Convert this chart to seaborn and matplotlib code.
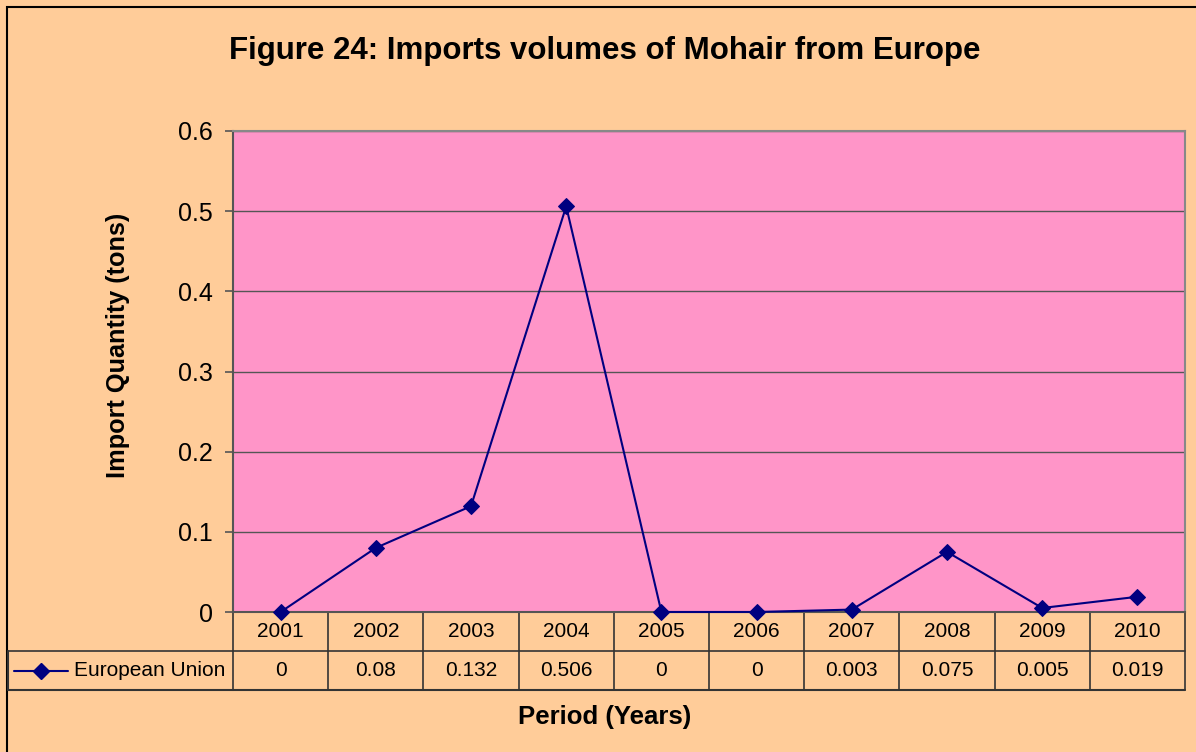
import matplotlib
matplotlib.use("Agg")
import matplotlib.pyplot as plt
import seaborn as sns
import pandas as pd
from matplotlib.lines import Line2D

years = ["2001", "2002", "2003", "2004", "2005", "2006", "2007", "2008", "2009", "2010"]
eu_values = [0, 0.08, 0.132, 0.506, 0, 0, 0.003, 0.075, 0.005, 0.019]
value_labels = ["0", "0.08", "0.132", "0.506", "0", "0", "0.003", "0.075", "0.005", "0.019"]
series_name = "European Union"
y_ticks = [0, 0.1, 0.2, 0.3, 0.4, 0.5, 0.6]
y_tick_labels = ["0", "0.1", "0.2", "0.3", "0.4", "0.5", "0.6"]

sns.set_style("white")
plt.rcParams['font.family'] = ['Liberation Sans', 'DejaVu Sans']
plt.rcParams['text.color'] = 'black'
plt.rcParams['axes.labelcolor'] = 'black'
plt.rcParams['ytick.color'] = '#555555'
plt.rcParams['ytick.labelcolor'] = 'black'

PEACH = "#FFCC99"
PINK = "#FF95C8"
NAVY = "#000080"

W, H = 1196, 752
fig = plt.figure(figsize=(W / 100, H / 100), dpi=100)
fig.patch.set_facecolor(PEACH)

# outer border
fig.add_artist(plt.Rectangle((7 / W, -0.01), 1.5, 1 - 7 / H + 0.01, transform=fig.transFigure,
                             fill=False, edgecolor="black", linewidth=1.5))

left, right, top, bottom = 233, 1185, 131, 612
ax = fig.add_axes([left / W, (H - bottom) / H, (right - left) / W, (bottom - top) / H])
ax.set_facecolor(PINK)

df = pd.DataFrame({"x": list(range(len(years))), "y": eu_values})
sns.lineplot(data=df, x="x", y="y", ax=ax, color=NAVY, marker="D", markersize=8,
             markeredgecolor=NAVY, linewidth=1.5, clip_on=False, zorder=5)

ax.set_xlim(-0.5, len(years) - 0.5)
ax.set_ylim(0, 0.6)
ax.set_yticks(y_ticks)
ax.set_yticklabels(y_tick_labels, fontsize=18)
ax.set_xticks([])
ax.set_xlabel("")
ax.set_ylabel("Import Quantity (tons)", fontsize=18.2, fontweight="bold")
ax.yaxis.set_label_coords(-103 / (right - left), (bottom - 345) / (bottom - top))
ax.tick_params(axis="y", length=6, width=1.2, color="#555555", direction="out", left=True, pad=8.5)
ax.grid(axis="y", color="#555555", linewidth=1)
for s in ["left", "bottom"]:
    ax.spines[s].set_color("#555555")
    ax.spines[s].set_linewidth(1.5)
for s in ["top", "right"]:
    ax.spines[s].set_color("#888888")
    ax.spines[s].set_linewidth(1.5)

# data table below the axes
row_h = 39 / (bottom - top)  # in axes fraction
tr = ax.get_xaxis_transform()
n = len(years)
lc = "#333333"
y1 = -row_h
y2 = -2 * row_h
ax.plot([-0.5, n - 0.5], [y1, y1], transform=tr, color=lc, lw=1.2, clip_on=False)
ax.plot([-0.5, n - 0.5], [y2, y2], transform=tr, color=lc, lw=1.5, clip_on=False)
for i in range(n + 1):
    ax.plot([i - 0.5, i - 0.5], [0, y2], transform=tr, color=lc, lw=1.2, clip_on=False)
for i, (yr, vl) in enumerate(zip(years, value_labels)):
    ax.text(i, -row_h / 2, yr, transform=tr, ha="center", va="center", fontsize=15)
    ax.text(i, -1.5 * row_h, vl, transform=tr, ha="center", va="center", fontsize=15)

# legend cell
lx0 = 8 / W
fy1 = (H - 651) / H
fy2 = (H - 690) / H
fx_axis = left / W
fig.add_artist(Line2D([lx0, fx_axis], [fy1, fy1], transform=fig.transFigure, color=lc, lw=1.2))
fig.add_artist(Line2D([lx0, fx_axis], [fy2, fy2], transform=fig.transFigure, color=lc, lw=1.5))
fig.add_artist(Line2D([lx0, lx0], [fy1, fy2], transform=fig.transFigure, color=lc, lw=1.5))
ym = (fy1 + fy2) / 2
fig.add_artist(Line2D([14 / W, 68 / W], [ym, ym], transform=fig.transFigure, color=NAVY, lw=1.5))
fig.add_artist(Line2D([41 / W], [ym], transform=fig.transFigure, color=NAVY, marker="D", markersize=8))
fig.text(74 / W, ym, series_name, ha="left", va="center", fontsize=15)

fig.text(605 / W, (H - 51) / H, "Figure 24: Imports volumes of Mohair from Europe",
         ha="center", va="center", fontsize=22.5, fontweight="bold")
fig.text(605 / W, (H - 717) / H, "Period (Years)", ha="center", va="center",
         fontsize=18.5, fontweight="bold")

fig.savefig("out.png", dpi=100, facecolor=PEACH)
